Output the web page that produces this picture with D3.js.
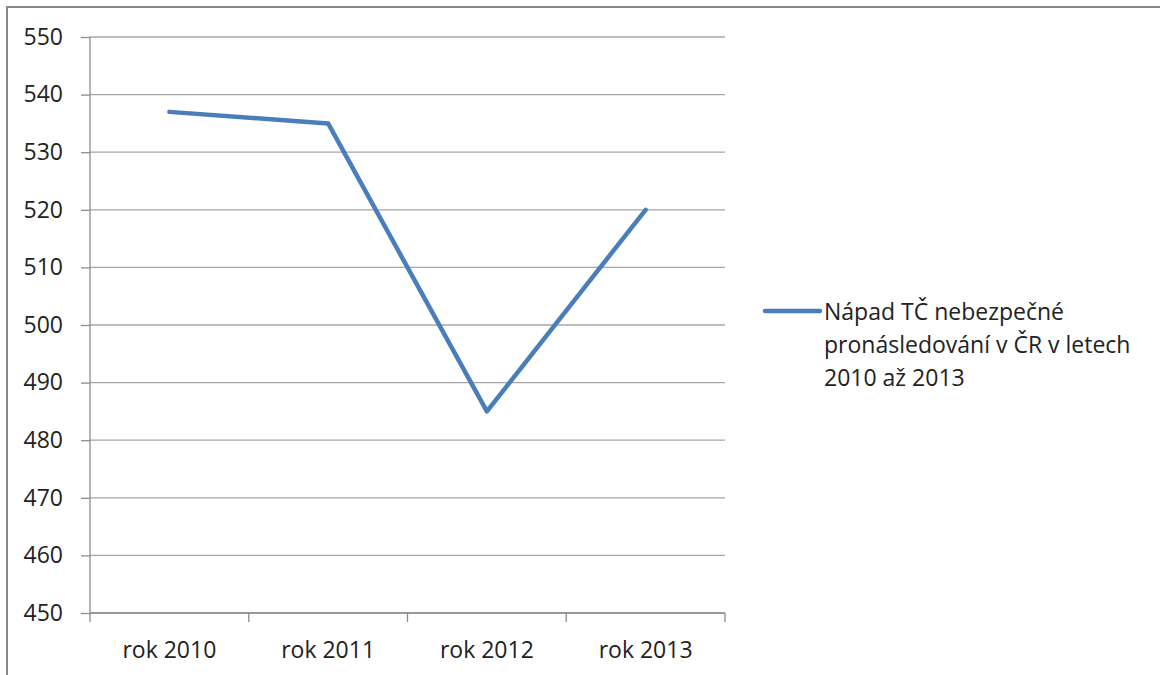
<!DOCTYPE html>
<html>
<head>
<meta charset="utf-8">
<script src="https://cdn.jsdelivr.net/npm/d3@7"></script>
<style>
  body { margin: 0; background: #fff; }
  svg text { font-family: "Open Sans", Lato, sans-serif; fill: #222; }
</style>
</head>
<body>
<div id="chart"></div>
<script>
// data
const categories = ["rok 2010", "rok 2011", "rok 2012", "rok 2013"];
const values = [537, 535, 485, 520];
const yTicks = [450, 460, 470, 480, 490, 500, 510, 520, 530, 540, 550];
const legendLines = ["Nápad TČ nebezpečné", "pronásledování v ČR v letech", "2010 až 2013"];

const W = 1160, H = 675;
const margin = {top: 37, left: 90, right: 435, bottom: 62};
const width = W - margin.left - margin.right;
const height = H - margin.top - margin.bottom;
const lineColor = "#4a7ebb";
const fontSize = 23;

const svg = d3.select("#chart").append("svg").attr("width", W).attr("height", H);

// outer chart border (runs off to the right and bottom)
svg.append("rect")
  .attr("x", 7).attr("y", 7)
  .attr("width", W + 20).attr("height", H + 20)
  .attr("fill", "none").attr("stroke", "#888").attr("stroke-width", 2);

const g = svg.append("g").attr("transform", `translate(${margin.left},${margin.top})`);

const x = d3.scaleBand().domain(categories).range([0, width]).padding(0);
const y = d3.scaleLinear().domain([450, 550]).range([height, 0]);

// gridlines
g.selectAll(".grid").data(yTicks).enter().append("line")
  .attr("x1", 0).attr("x2", width)
  .attr("y1", d => y(d)).attr("y2", d => y(d))
  .attr("stroke", "#a6a6a6").attr("stroke-width", 1.3);

// y axis
g.append("g")
  .call(d3.axisLeft(y).tickValues(yTicks).tickSize(9).tickPadding(18).tickFormat(d3.format("d")))
  .call(a => a.select(".domain").attr("stroke", "#8c8c8c").attr("stroke-width", 1.3).attr("d", `M0,0V${height}`))
  .call(a => a.selectAll(".tick line").attr("stroke", "#8c8c8c").attr("stroke-width", 1.3))
  .call(a => a.selectAll(".tick text").attr("font-size", fontSize).attr("fill", "#222"));

// x axis with ticks at band boundaries
const xa = g.append("g").attr("transform", `translate(0,${height})`);
xa.append("line").attr("x1", 0).attr("x2", width).attr("y1", 0).attr("y2", 0)
  .attr("stroke", "#8c8c8c").attr("stroke-width", 1.3);
const bounds = categories.map(c => x(c)).concat([width]);
xa.selectAll(".xt").data(bounds).enter().append("line")
  .attr("x1", d => d).attr("x2", d => d).attr("y1", 0).attr("y2", 9)
  .attr("stroke", "#8c8c8c").attr("stroke-width", 1.3);
xa.selectAll(".xl").data(categories).enter().append("text")
  .attr("x", d => x(d) + x.bandwidth() / 2)
  .attr("y", 45)
  .attr("text-anchor", "middle")
  .attr("font-size", fontSize)
  .text(d => d);

// series line
const pts = categories.map((c, i) => ({c, v: values[i]}));
g.append("path").datum(pts)
  .attr("fill", "none").attr("stroke", lineColor).attr("stroke-width", 4.5)
  .attr("stroke-linejoin", "round").attr("stroke-linecap", "round")
  .attr("d", d3.line().x(d => x(d.c) + x.bandwidth() / 2).y(d => y(d.v)));

// legend
const lg = svg.append("g").attr("transform", "translate(765,311)");
lg.append("line").attr("x1", 0).attr("x2", 55).attr("y1", 0).attr("y2", 0)
  .attr("stroke", lineColor).attr("stroke-width", 4.5).attr("stroke-linecap", "round");
lg.selectAll("text").data(legendLines).enter().append("text")
  .attr("x", 59).attr("y", (d, i) => i * 33 + 9)
  .attr("font-size", fontSize)
  .text(d => d);
</script>
</body>
</html>
